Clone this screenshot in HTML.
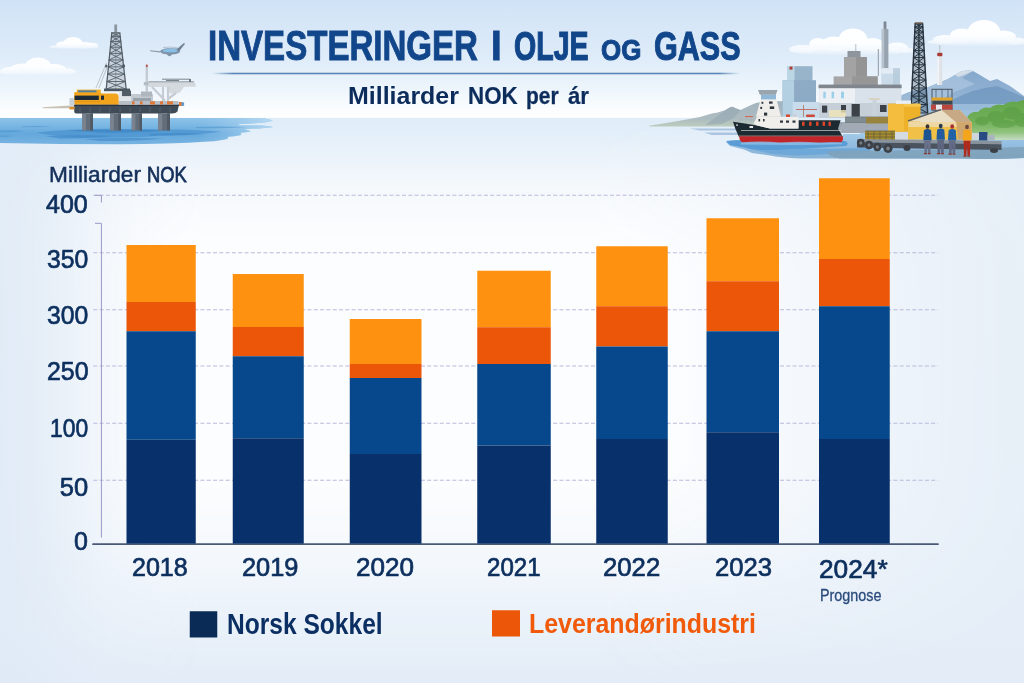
<!DOCTYPE html>
<html lang="no">
<head>
<meta charset="utf-8">
<title>Investeringer i olje og gass</title>
<style>
html,body{margin:0;padding:0}
body{width:1024px;height:683px;overflow:hidden;position:relative;background:#eef3f9;font-family:"Liberation Sans",sans-serif}
#art{position:absolute;left:0;top:0;width:1024px;height:683px;display:block}
.t{position:absolute;margin:0;padding:0;line-height:1;white-space:nowrap;transform-origin:0 0;font-family:"Liberation Sans",sans-serif}
h1,h2,p{margin:0;font-weight:inherit;font-size:inherit}
#t1{left:208.21px;top:25.36px;font-size:41.6px;font-weight:700;color:#12468a;transform:scaleX(0.7947);-webkit-text-stroke:0.9px #12468a;}
#t2{left:490.91px;top:25.36px;font-size:41.6px;font-weight:700;color:#12468a;transform:scaleX(0.9286);-webkit-text-stroke:0.9px #12468a;}
#t3{left:514.13px;top:25.58px;font-size:41.16px;font-weight:700;color:#12468a;transform:scaleX(0.6936);-webkit-text-stroke:1.2px #12468a;}
#t4{left:601.34px;top:34.51px;font-size:29.45px;font-weight:700;color:#12468a;transform:scaleX(0.8800);-webkit-text-stroke:1.0px #12468a;}
#t5{left:653.58px;top:26.47px;font-size:41.38px;font-weight:700;color:#12468a;transform:scaleX(0.7391);-webkit-text-stroke:1.05px #12468a;}
#s1{left:348.23px;top:84.23px;font-size:24.73px;font-weight:700;color:#0c2c5c;transform:scaleX(1.0093);}
#s2{left:468.13px;top:84.37px;font-size:24.44px;font-weight:700;color:#0c2c5c;transform:scaleX(0.9143);-webkit-text-stroke:0.2px #0c2c5c;}
#s3{left:525.71px;top:84.45px;font-size:24.29px;font-weight:700;color:#0c2c5c;transform:scaleX(0.8611);-webkit-text-stroke:0.3px #0c2c5c;}
#s4{left:567.79px;top:84.37px;font-size:24.44px;font-weight:700;color:#0c2c5c;transform:scaleX(0.9101);-webkit-text-stroke:0.2px #0c2c5c;}
#yt1{left:48.97px;top:164.37px;font-size:22.18px;font-weight:400;color:#14305a;transform:scaleX(1.0227);-webkit-text-stroke:0.5px #14305a;}
#yt2{left:147.49px;top:163.58px;font-size:21.75px;font-weight:400;color:#14305a;transform:scaleX(0.8424);-webkit-text-stroke:0.8px #14305a;}
#y400{left:46.25px;top:191.97px;font-size:25.51px;font-weight:400;color:#0d2f5e;transform:scaleX(0.9820);-webkit-text-stroke:0.7px #0d2f5e;}
#y350{left:46.77px;top:246.97px;font-size:25.51px;font-weight:400;color:#0d2f5e;transform:scaleX(0.9697);-webkit-text-stroke:0.7px #0d2f5e;}
#y300{left:46.77px;top:303.47px;font-size:25.51px;font-weight:400;color:#0d2f5e;transform:scaleX(0.9697);-webkit-text-stroke:0.7px #0d2f5e;}
#y250{left:46.52px;top:358.72px;font-size:25.51px;font-weight:400;color:#0d2f5e;transform:scaleX(0.9756);-webkit-text-stroke:0.7px #0d2f5e;}
#y100{left:49.91px;top:415.72px;font-size:25.51px;font-weight:400;color:#0d2f5e;transform:scaleX(0.8951);-webkit-text-stroke:0.7px #0d2f5e;}
#y50{left:59.75px;top:475.47px;font-size:25.51px;font-weight:400;color:#0d2f5e;transform:scaleX(1.0000);-webkit-text-stroke:0.7px #0d2f5e;}
#y0{left:74.26px;top:528.72px;font-size:25.51px;font-weight:400;color:#0d2f5e;transform:scaleX(0.9804);-webkit-text-stroke:0.7px #0d2f5e;}
#x2018{left:132.27px;top:554.97px;font-size:25.51px;font-weight:400;color:#0d2f5e;transform:scaleX(0.9827);-webkit-text-stroke:0.7px #0d2f5e;}
#x2019{left:242.00px;top:554.97px;font-size:25.51px;font-weight:400;color:#0d2f5e;transform:scaleX(0.9954);-webkit-text-stroke:0.7px #0d2f5e;}
#x2020{left:356.48px;top:554.97px;font-size:25.51px;font-weight:400;color:#0d2f5e;transform:scaleX(1.0227);-webkit-text-stroke:0.7px #0d2f5e;}
#x2021{left:487.30px;top:554.97px;font-size:25.51px;font-weight:400;color:#0d2f5e;transform:scaleX(0.9452);-webkit-text-stroke:0.7px #0d2f5e;}
#x2022{left:603.24px;top:554.97px;font-size:25.51px;font-weight:400;color:#0d2f5e;transform:scaleX(1.0091);-webkit-text-stroke:0.7px #0d2f5e;}
#x2023{left:714.75px;top:554.97px;font-size:25.51px;font-weight:400;color:#0d2f5e;transform:scaleX(1.0045);-webkit-text-stroke:0.7px #0d2f5e;}
#x2024{left:819.01px;top:555.58px;font-size:26.57px;font-weight:400;color:#0d2f5e;transform:scaleX(0.9890);-webkit-text-stroke:0.7px #0d2f5e;}
#prog{left:819.67px;top:587.61px;font-size:16.65px;font-weight:400;color:#2a4b7c;transform:scaleX(0.8633);-webkit-text-stroke:0.3px #2a4b7c;}
#l1{left:226.54px;top:610.11px;font-size:28.8px;font-weight:700;color:#0b2f63;transform:scaleX(0.8529);}
#l2{left:528.97px;top:610.48px;font-size:28.0px;font-weight:700;color:#f05a0a;transform:scaleX(0.8896);}
</style>
</head>
<body>
<svg id="art" width="1024" height="683" viewBox="0 0 1024 683">
<defs>
<linearGradient id="sky" x1="0" y1="0" x2="0" y2="1">
<stop offset="0" stop-color="#d0e3f6"/>
<stop offset="0.5" stop-color="#dfecf9"/>
<stop offset="0.75" stop-color="#edf5fc"/>
<stop offset="0.93" stop-color="#fbfdfe"/>
<stop offset="1" stop-color="#ffffff"/>
</linearGradient>
<linearGradient id="low" x1="0" y1="0" x2="0" y2="1">
<stop offset="0" stop-color="#dfedf9"/>
<stop offset="0.05" stop-color="#e5eff9"/>
<stop offset="0.12" stop-color="#e6eff8"/>
<stop offset="0.9" stop-color="#e5eef8"/>
<stop offset="1" stop-color="#e3ecf7"/>
</linearGradient>
<linearGradient id="edges" x1="0" y1="0" x2="1" y2="0">
<stop offset="0" stop-color="#d3e2f2" stop-opacity="0.22"/>
<stop offset="0.1" stop-color="#d3e2f2" stop-opacity="0"/>
<stop offset="1" stop-color="#d3e2f2" stop-opacity="0"/>
</linearGradient>
<linearGradient id="gx" x1="0" y1="0" x2="1" y2="0"><stop offset="0.0000" stop-color="#fcfdfe" stop-opacity="0.02"/><stop offset="0.0244" stop-color="#fcfdfe" stop-opacity="0.07"/><stop offset="0.0488" stop-color="#fcfdfe" stop-opacity="0.17"/><stop offset="0.0703" stop-color="#fcfdfe" stop-opacity="0.32"/><stop offset="0.0908" stop-color="#fcfdfe" stop-opacity="0.5"/><stop offset="0.1074" stop-color="#fcfdfe" stop-opacity="0.65"/><stop offset="0.1221" stop-color="#fcfdfe" stop-opacity="0.76"/><stop offset="0.1367" stop-color="#fcfdfe" stop-opacity="0.85"/><stop offset="0.1611" stop-color="#fcfdfe" stop-opacity="0.94"/><stop offset="0.1953" stop-color="#fcfdfe" stop-opacity="1.0"/><stop offset="0.5859" stop-color="#fcfdfe" stop-opacity="1.0"/><stop offset="0.6348" stop-color="#fcfdfe" stop-opacity="0.96"/><stop offset="0.6836" stop-color="#fcfdfe" stop-opacity="0.88"/><stop offset="0.7324" stop-color="#fcfdfe" stop-opacity="0.78"/><stop offset="0.7812" stop-color="#fcfdfe" stop-opacity="0.65"/><stop offset="0.8291" stop-color="#fcfdfe" stop-opacity="0.5"/><stop offset="0.8594" stop-color="#fcfdfe" stop-opacity="0.4"/><stop offset="0.8936" stop-color="#fcfdfe" stop-opacity="0.3"/><stop offset="0.9375" stop-color="#fcfdfe" stop-opacity="0.19"/><stop offset="0.9766" stop-color="#fcfdfe" stop-opacity="0.115"/><stop offset="1.0000" stop-color="#fcfdfe" stop-opacity="0.08"/></linearGradient>
<linearGradient id="gy" x1="0" y1="0" x2="0" y2="1"><stop offset="0.0000" stop-color="#ffffff" stop-opacity="0"/><stop offset="0.0389" stop-color="#ffffff" stop-opacity="0.1"/><stop offset="0.0655" stop-color="#ffffff" stop-opacity="0.25"/><stop offset="0.0885" stop-color="#ffffff" stop-opacity="0.45"/><stop offset="0.1186" stop-color="#ffffff" stop-opacity="0.63"/><stop offset="0.1451" stop-color="#ffffff" stop-opacity="0.76"/><stop offset="0.1805" stop-color="#ffffff" stop-opacity="0.88"/><stop offset="0.2159" stop-color="#ffffff" stop-opacity="0.95"/><stop offset="0.2867" stop-color="#ffffff" stop-opacity="1"/><stop offset="0.6053" stop-color="#ffffff" stop-opacity="1"/><stop offset="0.6761" stop-color="#ffffff" stop-opacity="0.92"/><stop offset="0.7204" stop-color="#ffffff" stop-opacity="0.82"/><stop offset="0.7646" stop-color="#ffffff" stop-opacity="0.68"/><stop offset="0.8177" stop-color="#ffffff" stop-opacity="0.5"/><stop offset="0.8743" stop-color="#ffffff" stop-opacity="0.3"/><stop offset="0.9416" stop-color="#ffffff" stop-opacity="0.12"/><stop offset="1.0000" stop-color="#ffffff" stop-opacity="0.03"/></linearGradient>
<mask id="my" maskUnits="userSpaceOnUse" x="0" y="118" width="1024" height="565"><rect x="0" y="118" width="1024" height="565" fill="url(#gy)"/></mask>
</defs>
<rect x="0" y="0" width="1024" height="118" fill="url(#sky)"/>
<rect x="0" y="117.8" width="1024" height="566" fill="url(#low)"/>
<rect x="0" y="117.8" width="1024" height="566" fill="url(#edges)"/>
<rect x="0" y="118" width="1024" height="565" fill="url(#gx)" mask="url(#my)"/>

<defs>
<linearGradient id="seaL" x1="0" y1="0" x2="0" y2="1"><stop offset="0" stop-color="#8ec3e9"/><stop offset="0.3" stop-color="#79b6e3"/><stop offset="0.6" stop-color="#65a8dc"/><stop offset="1" stop-color="#76b3e1"/></linearGradient>
<linearGradient id="seaLf" x1="0" y1="0" x2="1" y2="0"><stop offset="0" stop-color="#a5d0f0" stop-opacity="0"/><stop offset="0.72" stop-color="#a5d0f0" stop-opacity="0"/><stop offset="1" stop-color="#c0def4" stop-opacity="0.85"/></linearGradient>
<linearGradient id="seaLfade" x1="0" y1="0" x2="1" y2="0"><stop offset="0" stop-color="#fff" stop-opacity="1"/><stop offset="0.8" stop-color="#fff" stop-opacity="1"/><stop offset="1" stop-color="#fff" stop-opacity="0.3"/></linearGradient>
<linearGradient id="seaR" x1="0" y1="0" x2="0" y2="1"><stop offset="0" stop-color="#abd0ea"/><stop offset="0.5" stop-color="#94bfe2"/><stop offset="1" stop-color="#88b2d4"/></linearGradient>
<linearGradient id="mtn" x1="0" y1="0" x2="0" y2="1"><stop offset="0" stop-color="#85a7cb"/><stop offset="0.6" stop-color="#93b4d4"/><stop offset="1" stop-color="#a9c6e0"/></linearGradient>
<linearGradient id="hill" x1="0" y1="0" x2="0" y2="1"><stop offset="0" stop-color="#a3b3c0"/><stop offset="0.7" stop-color="#adbcc0"/><stop offset="1" stop-color="#bccdbd"/></linearGradient>
<linearGradient id="green" x1="0" y1="0" x2="0" y2="1"><stop offset="0" stop-color="#63a64c"/><stop offset="0.55" stop-color="#72b05a"/><stop offset="0.8" stop-color="#8fc27c"/><stop offset="1" stop-color="#c4dcc4"/></linearGradient>
<filter id="soft" x="-5%" y="-5%" width="110%" height="110%"><feGaussianBlur stdDeviation="0.45"/></filter>
<filter id="soft2" x="-10%" y="-30%" width="120%" height="160%"><feGaussianBlur stdDeviation="1.2"/></filter>
</defs>
<g id="scene" filter="url(#soft)">
<filter id="soft3" x="-10%" y="-20%" width="120%" height="140%"><feGaussianBlur stdDeviation="0.7"/></filter>
<linearGradient id="cl1" gradientUnits="userSpaceOnUse" x1="0" y1="37" x2="0" y2="49.5"><stop offset="0" stop-color="#ffffff" stop-opacity="1"/><stop offset="0.55" stop-color="#fdfeff" stop-opacity="0.97"/><stop offset="0.8" stop-color="#f3f8fd" stop-opacity="0.8"/><stop offset="1" stop-color="#eaf2fb" stop-opacity="0"/></linearGradient><g fill="url(#cl1)" opacity="1" filter="url(#soft3)"><ellipse cx="73" cy="43" rx="9.5" ry="6"/><ellipse cx="64" cy="45" rx="8" ry="3.8"/><ellipse cx="84" cy="45.5" rx="10" ry="3.4"/><ellipse cx="92" cy="45.5" rx="6" ry="2.8"/><ellipse cx="74" cy="47" rx="25" ry="2.2"/></g>
<linearGradient id="cl2" gradientUnits="userSpaceOnUse" x1="0" y1="57" x2="0" y2="76.5"><stop offset="0" stop-color="#ffffff" stop-opacity="1"/><stop offset="0.55" stop-color="#fdfeff" stop-opacity="0.97"/><stop offset="0.8" stop-color="#f3f8fd" stop-opacity="0.8"/><stop offset="1" stop-color="#eaf2fb" stop-opacity="0"/></linearGradient><g fill="url(#cl2)" opacity="0.95" filter="url(#soft3)"><ellipse cx="38" cy="66" rx="13" ry="8.5"/><ellipse cx="23" cy="69" rx="13" ry="5.5"/><ellipse cx="54" cy="69" rx="12" ry="5"/><ellipse cx="10" cy="71" rx="10" ry="4"/><ellipse cx="66" cy="71.5" rx="10" ry="3.2"/><ellipse cx="36" cy="72.5" rx="40" ry="3"/></g>
<linearGradient id="cl3" gradientUnits="userSpaceOnUse" x1="0" y1="28" x2="0" y2="57"><stop offset="0" stop-color="#ffffff" stop-opacity="1"/><stop offset="0.55" stop-color="#fdfeff" stop-opacity="0.97"/><stop offset="0.8" stop-color="#f3f8fd" stop-opacity="0.8"/><stop offset="1" stop-color="#eaf2fb" stop-opacity="0"/></linearGradient><g fill="url(#cl3)" opacity="1" filter="url(#soft3)"><ellipse cx="853" cy="38.5" rx="14" ry="10"/><ellipse cx="834" cy="44" rx="13" ry="7.5"/><ellipse cx="818" cy="44.5" rx="9" ry="6.5"/><ellipse cx="872" cy="44.5" rx="12" ry="6.5"/><ellipse cx="803" cy="49" rx="14" ry="4"/><ellipse cx="897" cy="47.5" rx="11" ry="5"/><ellipse cx="907" cy="50.5" rx="7" ry="3"/><ellipse cx="850" cy="51" rx="60" ry="4.5"/></g>
<linearGradient id="cl4" gradientUnits="userSpaceOnUse" x1="0" y1="20" x2="0" y2="48"><stop offset="0" stop-color="#ffffff" stop-opacity="1"/><stop offset="0.55" stop-color="#fdfeff" stop-opacity="0.97"/><stop offset="0.8" stop-color="#f3f8fd" stop-opacity="0.8"/><stop offset="1" stop-color="#eaf2fb" stop-opacity="0"/></linearGradient><g fill="url(#cl4)" opacity="1" filter="url(#soft3)"><ellipse cx="984" cy="31" rx="16" ry="11"/><ellipse cx="962" cy="35.5" rx="12" ry="7"/><ellipse cx="1003" cy="36.5" rx="13" ry="6"/><ellipse cx="946" cy="39.5" rx="13" ry="4.5"/><ellipse cx="1016" cy="41" rx="10" ry="3.5"/><ellipse cx="980" cy="42" rx="52" ry="4.5"/></g>
<path d="M900 118L900 96Q912 90 926 88L948 79L960 72Q966 69.5 973 71L980 75L990 81L997 79L1010 86L1024 96V118Z" fill="url(#mtn)"/>
<path d="M926 88L948 79L960 72Q966 69.5 973 71L962 78L975 84L955 92L940 100L925 104Z" fill="#a8c3de" opacity="0.8"/>
<path d="M955 74.5L960 72Q966 69.5 973 71L964 75L958 77Z" fill="#d3dde8"/>
<path d="M952 100Q975 88 997 86L1024 97V110H948Z" fill="#6f95bd" opacity="0.75"/>
<path d="M946 104H1024V120H946Z" fill="#9fc0dd" opacity="0.85"/>
<path d="M896 100Q905 91 914 92L926 88V118H896Z" fill="#9bb9d6"/>
<path d="M649 125.8Q680 121 700 117L712 113.5Q722 112 728 108.5Q732 105.5 735 108L740.5 110Q747 107 754.5 103.6L762 101.5L790 101V126.5H649Z" fill="url(#hill)"/>
<path d="M728 108.5Q732 105.5 735 108L740.5 110L734 118L722 124L705 125Z" fill="#94a6b2" opacity="0.6"/>
<path d="M740 141L843 141V134H860V128H1024V158Q990 159.5 960 158.5H800Q780 157.5 770 155.5L752 153L744 149.5L730 146L726 142Z" fill="url(#seaR)"/>
<path d="M726 141Q740 139 760 141H845Q850 143 846 146L800 149L770 150.5L752 149.5L744 147.5L730 145Z" fill="#5a9dd6"/>
<path d="M752 149.5L770 150.5L800 149L870 148V152L800 155.5Q780 155 770 153.5Z" fill="#6aa6d8" opacity="0.9"/>
<path d="M828 151.5Q850 149.5 880 151L1024 147V158Q990 159.5 960 158.5H840Q826 156 828 151.5Z" fill="#7fa2bb" opacity="0.9"/>
<path d="M690 128.5H742V130.5H700Z M704 132.5H748V135H712Z" fill="#a4c0dd" opacity="0.9"/>
<path d="M968 116Q972 111 978 112Q983 106 990 108Q996 103 1003 105Q1010 100 1017 102Q1021 100 1024 100V140H965Q962 124 968 116Z" fill="url(#green)"/>
<g fill="#559a40" opacity="0.5" filter="url(#soft3)"><ellipse cx="996" cy="117" rx="9" ry="6"/><ellipse cx="1012" cy="113" rx="9" ry="6.5"/><ellipse cx="1022" cy="120" rx="8" ry="7"/><ellipse cx="982" cy="121" rx="7" ry="4.5"/><ellipse cx="1004" cy="124" rx="12" ry="4"/></g>
<rect x="787" y="66.2" width="25.5" height="15" fill="#98b4ca"/>
<rect x="787" y="66.2" width="7.5" height="15" fill="#bcd6e6"/>
<rect x="782.6" y="80.2" width="33.4" height="37" fill="#8dabc4"/>
<rect x="782.6" y="80.2" width="11.5" height="37" fill="#b3d0e2"/>
<rect x="789.5" y="66.6" width="3" height="3" fill="#b03a30"/>
<rect x="792.7" y="102" width="26.5" height="16" fill="#c9dcec"/>
<path d="M796 109.5H817" stroke="#c0564a" stroke-width="0.8"/><path d="M803.5 105V117" stroke="#b0705f" stroke-width="0.8"/>
<rect x="806" y="114.5" width="9" height="2.6" rx="1" fill="#cf4a3a"/>
<rect x="847.5" y="51" width="13" height="6.5" fill="#8e959d"/>
<path d="M855.8 44V51" stroke="#9aa3ad" stroke-width="0.7"/>
<rect x="844" y="57" width="23" height="20" fill="#a3a3a3"/>
<rect x="856" y="57" width="11" height="20" fill="#949494"/>
<rect x="833.6" y="76.4" width="44" height="10" fill="#a6a6a6"/>
<rect x="852" y="76.4" width="25.6" height="10" fill="#969696"/>
<path d="M878.3 49V76" stroke="#9099a3" stroke-width="1"/>
<rect x="883.6" y="21.5" width="2.8" height="8" fill="#7f8891"/>
<rect x="881.8" y="29" width="6.6" height="40" fill="#97a3ae"/>
<rect x="881.8" y="29" width="2.4" height="40" fill="#b7c2cc"/>
<rect x="881.3" y="68.2" width="18.7" height="19" rx="1.5" fill="#c9dbe9"/>
<rect x="881.3" y="68.2" width="18.7" height="5.5" rx="1.5" fill="#e3ecf4"/>
<rect x="893" y="68.2" width="7" height="19" fill="#b4c9db" opacity="0.8"/>
<rect x="819.2" y="86" width="82" height="32" fill="#d3dae2"/>
<rect x="819.2" y="86" width="36" height="17" fill="#eceff3"/>
<rect x="855.2" y="86" width="46" height="17" fill="#d9e1ea"/>
<rect x="819.2" y="103" width="82" height="15" fill="#c6ced8"/>
<rect x="818.6" y="84.6" width="83" height="3.6" fill="#80868d"/>
<g fill="#9ccfea"><rect x="823.3" y="91.7" width="2.4" height="6.6"/><rect x="831.6" y="91.7" width="2.5" height="6.6"/><rect x="841" y="91.7" width="3" height="6.6"/></g>
<g fill="#3b4048"><rect x="822" y="105.6" width="5.2" height="7"/><rect x="841" y="105" width="5" height="7.6"/><rect x="851.6" y="104" width="8.2" height="12.8"/><rect x="880" y="105" width="6.6" height="7"/></g>
<rect x="829" y="110" width="17" height="7" fill="#f1e6b8" opacity="0.8"/>
<rect x="869" y="98" width="11" height="2" fill="#d9d3c6"/><rect x="872.5" y="100" width="4" height="22" fill="#c9d3dc"/>
<rect x="837" y="122" width="52" height="11" fill="#9aa4ae"/>
<path d="M837 133L843 122H889V133Z" fill="#a2abb5"/>
<rect x="845" y="116.5" width="44" height="6.5" fill="#6f7a80" opacity="0.85"/>
<rect x="866" y="117" width="22" height="6.5" fill="#9b8438" opacity="0.9"/>
<path d="M915.2 23.5H922.6L927.6 113H910.8Z" fill="#2a3a48" opacity="0.28"/>
<g stroke="#26343f" fill="none" stroke-linecap="round">
<path d="M915.2 23.5L910.8 113M922.6 23.5L927.6 113" stroke-width="1.5"/>
<path d="M915.20 23.50H922.60M915.20 23.50L922.80 27.13M922.60 23.50L915.02 27.13M915.02 27.13H922.80M915.02 27.13L923.08 32.12M922.80 27.13L914.78 32.12M914.78 32.12H923.08M914.78 32.12L923.40 37.82M923.08 32.12L914.50 37.82M914.50 37.82H923.40M914.50 37.82L923.75 44.01M923.40 37.82L914.19 44.01M914.19 44.01H923.75M914.19 44.01L924.11 50.61M923.75 44.01L913.87 50.61M913.87 50.61H924.11M913.87 50.61L924.50 57.55M924.11 50.61L913.53 57.55M913.53 57.55H924.50M913.53 57.55L924.91 64.78M924.50 57.55L913.17 64.78M913.17 64.78H924.91M913.17 64.78L925.33 72.28M924.91 64.78L912.80 72.28M912.80 72.28H925.33M912.80 72.28L925.76 80.02M925.33 72.28L912.42 80.02M912.42 80.02H925.76M912.42 80.02L926.20 87.98M925.76 80.02L912.03 87.98M912.03 87.98H926.20M912.03 87.98L926.66 96.13M926.20 87.98L911.63 96.13M911.63 96.13H926.66M911.63 96.13L927.12 104.48M926.66 96.13L911.22 104.48M911.22 104.48H927.12M911.22 104.48L927.60 113.00M927.12 104.48L910.80 113.00M910.8 113H927.6" stroke-width="1.0"/>
<path d="M918.90 23.5V113" stroke-width="0.9" opacity="0.6"/>
</g>
<path d="M918.9 23.5V113" stroke="#22303a" stroke-width="1.6" opacity="0.75"/>
<rect x="915" y="22.3" width="7.8" height="1.6" fill="#6b5a50"/>
<rect x="937.3" y="55" width="5" height="30" fill="#dfe3e8"/><rect x="937.3" y="55" width="1.8" height="30" fill="#f2f4f6"/>
<rect x="937.2" y="52.7" width="5.2" height="3.6" rx="1" fill="#a83a32"/><path d="M939.8 45V53" stroke="#b9bec5" stroke-width="1"/>
<g><rect x="932" y="89.3" width="20" height="21" fill="none" stroke="#4a545e" stroke-width="1"/><path d="M936 89.3V98M948 89.3V98M942 89.3V98" stroke="#4a545e" stroke-width="0.7"/>
<rect x="931.5" y="97.5" width="21" height="3.2" fill="#e2a32a"/><rect x="932.5" y="100.7" width="19.5" height="4" fill="#3b4650"/><rect x="931" y="104.7" width="21.5" height="5" fill="#b9473c"/><rect x="936" y="104.7" width="6" height="5" fill="#e8e8ea"/></g>
<rect x="888" y="103.7" width="32.5" height="28" rx="1" fill="#eeb22c"/>
<rect x="888" y="103.7" width="16" height="28" rx="1" fill="#f4bd3c"/>
<rect x="904" y="103.7" width="16.5" height="3" fill="#f6c64e"/>
<rect x="896" y="100.5" width="15" height="3.4" fill="#e9eef2"/>
<path d="M908 122H972V139.5H908Z" fill="#f0c046"/>
<path d="M908.5 121.5L941.5 110H960L971.5 122.3Z" fill="#e9dfc6"/>
<path d="M941.5 110H960L971.5 122.3L956 122.3Z" fill="#c8a986"/>
<path d="M908 121L941 109.6" stroke="#5a5f63" stroke-width="1.4"/>
<path d="M956 122.3H971.5V139.5H958Z" fill="#cfa66c"/>
<path d="M908.5 121.8H956L957 127H908.5Z" fill="#ecdcb4" opacity="0.85"/>
<rect x="865" y="131" width="30" height="9" fill="#a58c2f"/>
<path d="M865 131H895M865 134H895M865 137H895M868 131V140M874 131V140M880 131V140M886 131V140M892 131V140" stroke="#5f5a3a" stroke-width="0.7" fill="none"/>
<rect x="895" y="132" width="13" height="8" fill="#d5dbe2"/>
<rect x="979" y="132" width="8.5" height="8.6" fill="#2c4c82"/><rect x="972" y="133" width="7" height="6.5" fill="#cfd5dc"/><rect x="987.5" y="135" width="7" height="5" fill="#aab4be"/>
<path d="M857 139L1001.5 141V144.2L857 142.2Z" fill="#8a929c"/>
<path d="M857 142.2L1001.5 144.2V150L857 147.6Z" fill="#4b535e"/>
<g fill="#3a3f46"><ellipse cx="860.8" cy="143" rx="3.9" ry="4.2"/><ellipse cx="869" cy="145" rx="3.9" ry="4.2"/><ellipse cx="877.3" cy="147" rx="3.9" ry="4.2"/><ellipse cx="888" cy="148.5" rx="4.6" ry="4.4"/><ellipse cx="907" cy="148" rx="3.5" ry="3"/><ellipse cx="994" cy="150.6" rx="4" ry="2.4"/></g>
<g fill="#777e86"><ellipse cx="860.8" cy="143" rx="1.5" ry="1.8"/><ellipse cx="869" cy="145" rx="1.5" ry="1.8"/><ellipse cx="877.3" cy="147" rx="1.5" ry="1.8"/><ellipse cx="888" cy="148.5" rx="1.8" ry="1.9"/></g>
<ellipse cx="927.5" cy="126.5" rx="1.9" ry="2.2" fill="#3a3030"/><path d="M923.9 130.3Q927.5 127.89999999999999 931.1 130.3L931.7 140.3H923.3Z" fill="#1d5290"/><path d="M924.1 140.3H930.9L930.4 153.3H928.0L927.5 143.3L926.9 153.3H924.5Z" fill="#69708a"/><path d="M923.9 153.10000000000002H927.1V154.3H923.7ZM927.9 153.10000000000002H930.7V154.3H927.9Z" fill="#8a3a30"/>
<ellipse cx="940.7" cy="126.0" rx="1.9" ry="2.2" fill="#2c3a4c"/><path d="M937.1 129.8Q940.7 127.39999999999999 944.3000000000001 129.8L944.9000000000001 139.8H936.5Z" fill="#215c9c"/><path d="M937.3000000000001 139.8H944.1L943.6 153.3H941.2L940.7 142.8L940.1 153.3H937.7Z" fill="#5f6680"/><path d="M937.1 153.10000000000002H940.3000000000001V154.3H936.9000000000001ZM941.1 153.10000000000002H943.9000000000001V154.3H941.1Z" fill="#8a3a30"/>
<ellipse cx="952.2" cy="126.5" rx="1.9" ry="2.2" fill="#a83030"/><path d="M948.6 130.3Q952.2 127.89999999999999 955.8000000000001 130.3L956.4000000000001 140.3H948.0Z" fill="#2262a6"/><path d="M948.8000000000001 140.3H955.6L955.1 153.8H952.7L952.2 143.3L951.6 153.8H949.2Z" fill="#626a86"/><path d="M948.6 153.60000000000002H951.8000000000001V154.8H948.4000000000001ZM952.6 153.60000000000002H955.4000000000001V154.8H952.6Z" fill="#8a3a30"/>
<ellipse cx="967" cy="127.0" rx="1.9" ry="2.2" fill="#6b4a3a"/><path d="M963.4 130.8Q967 128.4 970.6 130.8L971.2 140.8H962.8Z" fill="#f4a51c"/><path d="M963.6 140.8H970.4L969.9 155.8H967.5L967 143.8L966.4 155.8H964Z" fill="#b02a1e"/><path d="M963.4 155.60000000000002H966.6V156.8H963.2ZM967.4 155.60000000000002H970.2V156.8H967.4Z" fill="#8a3a30"/>
<path d="M733 121.7Q745 123.5 757 125.5L770 128.5H798.5V120.3H840.6L838 128.7L843 137H739Q735 129 733 121.7Z" fill="#1d2931"/>
<path d="M739 136.2H842.5Q844 139.5 841.5 142.3Q800 143.5 742 142.6Q739 139.5 739 136.2Z" fill="#c0282c"/>
<path d="M741 130.5H841" stroke="#dfe5ea" stroke-width="0.7" opacity="0.9"/><path d="M739 135.9H842.6" stroke="#e6b8b0" stroke-width="0.6" opacity="0.8"/>
<path d="M753.6 123.5L757 116.8H798.4V128.6H770L757 125.5Z" fill="#f0efec"/>
<path d="M756 116.8L760.6 99.2H776.5L781 116.8Z" fill="#efeeea"/>
<rect x="761" y="94.6" width="15" height="4.8" fill="#8fb8d8"/>
<path d="M758 90H777.5L775.8 94.8H759.8Z" fill="#98a4ae"/>
<g fill="#2f363d"><rect x="769" y="101.5" width="3.6" height="2.2"/><rect x="761.5" y="101.8" width="1.8" height="2"/><rect x="769.8" y="106.4" width="4.4" height="2.6"/><rect x="760.3" y="106.8" width="1.8" height="2.2"/><rect x="764" y="112.6" width="3.2" height="3"/><rect x="780" y="120.5" width="3" height="2.2"/><rect x="786" y="120.5" width="3" height="2.2"/><rect x="792.5" y="120.5" width="3" height="2.2"/><rect x="763" y="119" width="1.6" height="2.4"/><rect x="758.5" y="119" width="1.6" height="2.4"/></g>
<g fill="#d8452a"><rect x="802" y="121.5" width="2.6" height="4.4" rx="1"/><rect x="809" y="121.5" width="2.6" height="4.4" rx="1"/><rect x="816" y="121.5" width="2.6" height="4.4" rx="1"/><rect x="822.5" y="121.5" width="2.6" height="4.4" rx="1"/><rect x="828.5" y="121.5" width="2.4" height="4.8" rx="1"/></g>
<path d="M738 119.6H754M741 117.6V121M746 117.6V121.5M751 117.6V122.3" stroke="#a9b0b6" stroke-width="0.6" fill="none"/>
<path d="M745 116.6H753" stroke="#d9614a" stroke-width="1"/>
<rect x="786" y="114.5" width="4" height="2.4" fill="#d6452f"/><rect x="793" y="114" width="4" height="3" fill="#c9d2da"/>
<g fill="#e8eaec"><rect x="736.2" y="124.4" width="1.6" height="1.4"/><rect x="749.5" y="126" width="3.6" height="2"/></g>
<path d="M741 142.5Q760 140.5 780 142.5Q800 141 820 142.8Q832 141.5 842 142.8V144.3Q800 145.5 741 144.5Z" fill="#8fc0e8" opacity="0.8"/>
<path d="M0 118H262Q270 119.2 273 120.6Q268 122.6 256 123.2L238 124.2L240 125.2L262 125.4Q272 126.2 273 127Q266 128.4 252 128.6L244 129.4Q250 130.4 251 131.2Q246 132.6 240 132.8Q242 134 241 135Q234 136.4 228 136.8Q229 138 227 139Q220 140.8 208 141.6Q170 144.2 120 144.2Q60 144.2 0 143Z" fill="url(#seaL)"/>
<path d="M0 118H262Q270 119.2 273 120.6Q268 122.6 256 123.2L238 124.2L240 125.2L262 125.4Q272 126.2 273 127Q266 128.4 252 128.6L244 129.4Q250 130.4 251 131.2Q246 132.6 240 132.8Q242 134 241 135Q234 136.4 228 136.8Q229 138 227 139Q220 140.8 208 141.6Q170 144.2 120 144.2Q60 144.2 0 143Z" fill="url(#seaLf)"/>
<path d="M36 132.5Q80 128.2 125 129Q175 128.6 222 131.4Q200 134.5 160 135.6Q130 138.6 90 137.6Q55 137 36 132.5Z" fill="#4a93cf" opacity="0.7"/>
<path d="M66 130.5Q110 128.5 170 130.2Q140 133 100 132.6Z" fill="#2f7bbd" opacity="0.5"/>
<path d="M45 136Q90 134.5 112 136Q90 139 60 138.4Z M84 139Q120 137.4 165 138.4Q130 141.4 100 141Z M150 134Q180 132.6 205 134Q180 136 150 135.4Z" fill="#3a84c4" opacity="0.55"/>
<path d="M0 130.6Q14 129.6 26 131Q14 132.6 0 132.2Z M0 135.6Q8 135 14 136Q6 137.2 0 136.8Z M22 126.4Q40 125.6 52 126.6Q40 127.6 22 127.2Z M196 127Q225 126 246 127.2Q222 128.6 196 128Z" fill="#4a92ce" opacity="0.55"/>
<rect x="82" y="113.5" width="11" height="17" fill="#626d79"/>
<rect x="82" y="113.5" width="3.85" height="17" fill="#78838f"/>
<rect x="90.25" y="113.5" width="2.75" height="17" fill="#505a65"/>
<rect x="110" y="113.5" width="11" height="17" fill="#626d79"/>
<rect x="110" y="113.5" width="3.85" height="17" fill="#78838f"/>
<rect x="118.25" y="113.5" width="2.75" height="17" fill="#505a65"/>
<rect x="131.75" y="113.5" width="10.25" height="17" fill="#626d79"/>
<rect x="131.75" y="113.5" width="3.59" height="17" fill="#78838f"/>
<rect x="139.44" y="113.5" width="2.56" height="17" fill="#505a65"/>
<rect x="158" y="113.5" width="12" height="17" fill="#626d79"/>
<rect x="158" y="113.5" width="4.20" height="17" fill="#78838f"/>
<rect x="167.00" y="113.5" width="3.00" height="17" fill="#505a65"/>
<path d="M74.2 104.6H179L177.5 111.5Q176 113.6 172 113.6H76.2Q74.2 113.6 74.2 111.6Z" fill="#414c59"/>
<path d="M74.2 104.6H179V106H74.2Z" fill="#2c3540"/>
<path d="M80 107.5V112M90 107.5V112M100 107.5V112M110 107.5V112M120 107.5V112M130 107.5V112M140 107.5V112M150 107.5V112M160 107.5V112M170 107.5V112" stroke="#566270" stroke-width="0.8"/>
<path d="M42 107.2L74 105.2V108.3L44 108.3Z" fill="#c9c2b4"/><path d="M69.5 98H74.5V105H69.5Z" fill="#c3cad2" opacity="0.9"/><rect x="69.5" y="107" width="5" height="2.4" fill="#d98a2a"/>
<path d="M111.8 33H119.8L126.2 89.2H106.2Z" fill="#5a6670" opacity="0.2"/>
<g stroke="#545f69" fill="none" stroke-linecap="round">
<path d="M111.8 33L106.2 89.2M119.8 33L126.2 89.2" stroke-width="1.3"/>
<path d="M111.80 33.00H119.80M111.80 33.00L120.21 36.61M119.80 33.00L111.44 36.61M111.44 36.61H120.21M111.44 36.61L120.78 41.57M120.21 36.61L110.95 41.57M110.95 41.57H120.78M110.95 41.57L121.42 47.23M120.78 41.57L110.38 47.23M110.38 47.23H121.42M110.38 47.23L122.12 53.39M121.42 47.23L109.77 53.39M109.77 53.39H122.12M109.77 53.39L122.87 59.96M122.12 53.39L109.11 59.96M109.11 59.96H122.87M109.11 59.96L123.66 66.85M122.87 59.96L108.43 66.85M108.43 66.85H123.66M108.43 66.85L124.47 74.05M123.66 66.85L107.71 74.05M107.71 74.05H124.47M107.71 74.05L125.32 81.51M124.47 74.05L106.97 81.51M106.97 81.51H125.32M106.97 81.51L126.20 89.20M125.32 81.51L106.20 89.20M106.2 89.2H126.2" stroke-width="0.9"/>
<path d="M115.80 33V89.2" stroke-width="0.81" opacity="0.6"/>
</g>
<rect x="114.3" y="24.5" width="2.8" height="9" fill="#8b959d"/><rect x="112" y="32" width="7.6" height="1.6" fill="#6f7a83"/>
<rect x="104" y="88.6" width="26" height="2.6" fill="#4b5560"/>
<ellipse cx="106.2" cy="66" rx="1.3" ry="1.6" fill="#4e5962"/><ellipse cx="123.6" cy="66" rx="1.5" ry="1.8" fill="#4e5962"/>
<path d="M96 88L106.5 63M99 88L107.5 66" stroke="#8a949c" stroke-width="0.5" fill="none"/>
<path d="M118.6 104.4V93L122 91.2H130.5V96.5H137V104.4Z" fill="#e2e6ea"/>
<rect x="122" y="90.5" width="9" height="5.6" fill="#525c66"/>
<rect x="131" y="94" width="22" height="10.4" fill="#c2c9d0"/><rect x="141" y="91.5" width="11" height="5" fill="#aeb6be"/><rect x="133" y="98" width="18" height="3" fill="#9aa3ac"/>
<rect x="145.6" y="66" width="2.4" height="26" fill="#c3cad1"/><rect x="145.9" y="64.6" width="1.8" height="2.4" fill="#b5524a"/><rect x="143.8" y="82" width="6" height="3.4" fill="#b4bcc4"/>
<path d="M148.5 81H193.5L195.6 84.2V86.8H184L180 92.5Q176 94.2 170 93.6L166.5 87H148.5Z" fill="#d4d9de"/>
<path d="M148.5 81H194V82.6H148.5Z" fill="#a9b1b9"/>
<path d="M152 87L165 100.5M163 87V101M168 87V101M176 93L168 99" stroke="#c5ccd3" stroke-width="2.2" fill="none"/>
<path d="M162 79.2H190M166 80.5H179" stroke="#6d7780" stroke-width="0.9"/><rect x="189" y="79" width="2" height="3" fill="#6d7780"/>
<rect x="118.6" y="101" width="60" height="3.6" fill="#b8bfc6"/>
<g fill="#e07a3a"><rect x="132" y="101.3" width="2.6" height="3.2"/><rect x="140" y="101.3" width="2.6" height="3.2"/><rect x="150" y="101.3" width="5" height="3.2"/><rect x="160" y="101.3" width="3" height="3.2"/><rect x="167" y="101.3" width="6" height="3.2"/><rect x="179" y="102" width="3.6" height="4"/></g><rect x="181.5" y="102.4" width="2.6" height="3.4" fill="#5b9ad0"/>
<path d="M74.2 93.2Q74.2 92 75.6 92H100L101.5 93.6H115.6Q118.6 93.8 118.6 97V104.6H74.2Z" fill="#f2a41c"/>
<rect x="76.8" y="89.6" width="24" height="3" fill="#f0ab2a"/><rect x="78" y="90.4" width="18.5" height="1.9" fill="#4f7f9f"/>
<rect x="74.6" y="95.6" width="24.2" height="4.4" fill="#1b2b38"/><rect x="101" y="95.6" width="3" height="4.2" fill="#1b2b38"/>
<path d="M74.2 101.6H100" stroke="#d98e12" stroke-width="0.8"/>
<rect x="71" y="100" width="3.4" height="4.6" fill="#c9d0d8" opacity="0.9"/>
<path d="M159.8 51.4Q162 48.4 168 48.2L178 48.6Q180.6 49.6 180 52Q178 54.4 172 54.6Q170.5 56.6 168.6 56L166.6 54.2Q161.4 53.8 159.8 51.4Z" fill="#7f94a8"/>
<path d="M163 49.8Q170 48.2 177 49.3Q178 51.2 176 52Q169 52.6 163.4 51.8Z" fill="#86c0e6"/>
<path d="M176.5 49.6L183.6 43.2L185.2 43.6L179.6 50.8Z" fill="#6f8194"/>
<path d="M150 50.2L160.4 51.2L160 52.4L150 51.2Z" fill="#8a99a8"/>
<path d="M163 47.6Q170 46.4 177.5 47.8" stroke="#9aa7b3" stroke-width="0.6" fill="none"/>
</g>
<defs><linearGradient id="ul" x1="0" y1="0" x2="1" y2="0"><stop offset="0" stop-color="#4a78ab" stop-opacity="0"/><stop offset="0.04" stop-color="#4a78ab" stop-opacity="0.9"/><stop offset="0.96" stop-color="#4a78ab" stop-opacity="0.9"/><stop offset="1" stop-color="#4a78ab" stop-opacity="0"/></linearGradient></defs>
<rect id="underline" x="212" y="72.7" width="528" height="1.6" fill="url(#ul)"/>
<g id="grid" stroke="#bbb9db" stroke-width="1.1" stroke-dasharray="4 2.3" fill="none">
<line x1="93.3" y1="195.3" x2="938" y2="195.3"/>
<line x1="93.3" y1="252.7" x2="938" y2="252.7"/>
<line x1="93.3" y1="309.7" x2="938" y2="309.7"/>
<line x1="93.3" y1="366" x2="938" y2="366"/>
<line x1="93.3" y1="423.3" x2="938" y2="423.3"/>
<line x1="93.3" y1="480.2" x2="938" y2="480.2"/>
</g>
<g id="axes" fill="none">
<path d="M95 195.3H101.4V202.5" stroke="#9a98c8" stroke-width="1"/>
<path d="M95 223.3H101.4V537.5" stroke="#9a98c8" stroke-width="1"/>
<line x1="93" y1="544.2" x2="938" y2="544.2" stroke="#4a5a76" stroke-width="1.7" stroke-linecap="round"/>
</g>
<g id="bars">
<rect x="126.5" y="245" width="69.25" height="57.00" fill="#fe9210"/>
<rect x="126.5" y="302" width="69.25" height="29.25" fill="#ec5608"/>
<rect x="126.5" y="331.25" width="69.25" height="108.50" fill="#06488b"/>
<rect x="126.5" y="439.75" width="69.25" height="103.85" fill="#08306a"/>
<rect x="232.75" y="274" width="71.00" height="53.00" fill="#fe9210"/>
<rect x="232.75" y="327" width="71.00" height="29.25" fill="#ec5608"/>
<rect x="232.75" y="356.25" width="71.00" height="82.00" fill="#06488b"/>
<rect x="232.75" y="438.25" width="71.00" height="105.35" fill="#08306a"/>
<rect x="349.75" y="319" width="71.75" height="45.00" fill="#fe9210"/>
<rect x="349.75" y="364" width="71.75" height="14.00" fill="#ec5608"/>
<rect x="349.75" y="378" width="71.75" height="76.00" fill="#06488b"/>
<rect x="349.75" y="454" width="71.75" height="89.60" fill="#08306a"/>
<rect x="477.25" y="270.75" width="73.50" height="56.50" fill="#fe9210"/>
<rect x="477.25" y="327.25" width="73.50" height="36.75" fill="#ec5608"/>
<rect x="477.25" y="364" width="73.50" height="81.50" fill="#06488b"/>
<rect x="477.25" y="445.5" width="73.50" height="98.10" fill="#08306a"/>
<rect x="596.25" y="246.25" width="71.50" height="60.00" fill="#fe9210"/>
<rect x="596.25" y="306.25" width="71.50" height="40.25" fill="#ec5608"/>
<rect x="596.25" y="346.5" width="71.50" height="92.50" fill="#06488b"/>
<rect x="596.25" y="439" width="71.50" height="104.60" fill="#08306a"/>
<rect x="706.5" y="218.25" width="72.50" height="63.00" fill="#fe9210"/>
<rect x="706.5" y="281.25" width="72.50" height="50.00" fill="#ec5608"/>
<rect x="706.5" y="331.25" width="72.50" height="101.00" fill="#06488b"/>
<rect x="706.5" y="432.25" width="72.50" height="111.35" fill="#08306a"/>
<rect x="819" y="178.25" width="70.75" height="80.75" fill="#fe9210"/>
<rect x="819" y="259" width="70.75" height="47.25" fill="#ec5608"/>
<rect x="819" y="306.25" width="70.75" height="132.75" fill="#06488b"/>
<rect x="819" y="439" width="70.75" height="104.60" fill="#08306a"/>
</g>
<g id="legend-swatches">
<rect x="189.75" y="611.25" width="27.5" height="26.25" fill="#0a2b55"/>
<rect x="492" y="610.25" width="28" height="26.25" fill="#ec5608"/>
</g>
</svg>
<header>
<h1><span class="t" id="t1">INVESTERINGER</span> <span class="t" id="t2">I</span> <span class="t" id="t3">OLJE</span> <span class="t" id="t4">OG</span> <span class="t" id="t5">GASS</span></h1>
<h2><span class="t" id="s1">Milliarder</span> <span class="t" id="s2">NOK</span> <span class="t" id="s3">per</span> <span class="t" id="s4">ár</span></h2>
</header>
<main>
<div class="ytitle"><span class="t" id="yt1">Milliarder</span> <span class="t" id="yt2">NOK</span></div>
<div class="yaxis"><span class="t" id="y400">400</span><span class="t" id="y350">350</span><span class="t" id="y300">300</span><span class="t" id="y250">250</span><span class="t" id="y100">100</span><span class="t" id="y50">50</span><span class="t" id="y0">0</span></div>
<div class="xaxis"><span class="t" id="x2018">2018</span><span class="t" id="x2019">2019</span><span class="t" id="x2020">2020</span><span class="t" id="x2021">2021</span><span class="t" id="x2022">2022</span><span class="t" id="x2023">2023</span><span class="t" id="x2024">2024*</span><span class="t" id="prog">Prognose</span></div>
<div class="legend"><span class="t" id="l1">Norsk Sokkel</span><span class="t" id="l2">Leverandørindustri</span></div>
</main>
</body>
</html>
